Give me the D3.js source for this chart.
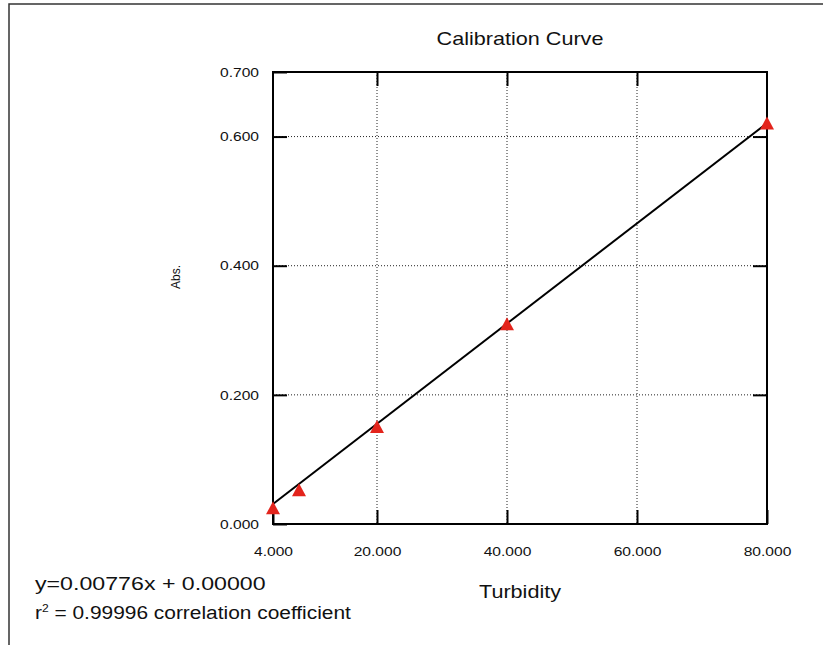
<!DOCTYPE html>
<html>
<head>
<meta charset="utf-8">
<script src="https://cdn.jsdelivr.net/npm/d3@7"></script>
<style>
  html, body { margin: 0; padding: 0; background: #fff; }
  svg text { font-family: "Liberation Sans", Arial, Helvetica, sans-serif; fill: #111; }
</style>
</head>
<body>
<svg id="chart" width="823" height="645"></svg>
<script>
// calibration standards
const turbidity = [4, 8, 20, 40, 80];
const absorbance = [0.025, 0.053, 0.151, 0.310, 0.621];

// fit
const slope = 0.00776;
const intercept = 0.0;

const xTicks = [4, 20, 40, 60, 80];
const yTicks = [0, 0.2, 0.4, 0.6, 0.7];
const xGrid = [20, 40, 60];
const yGrid = [0.2, 0.4, 0.6];

const margin = { top: 72, right: 56, bottom: 121, left: 273 };
const width = 823, height = 645;
// the source picture is a bit wider than tall, text looks stretched sideways
const sx = 1.2;

const svg = d3.select("#chart");

function stretch(sel, cx, s = sx) {
  sel.attr("transform", `translate(${cx},0) scale(${s},1) translate(${-cx},0)`);
}

// outer frame (only top and left edges visible)
svg.append("rect")
  .attr("x", 9).attr("y", 4)
  .attr("width", 900).attr("height", 800)
  .attr("fill", "none").attr("stroke", "#333").attr("stroke-width", 1.5);

const x = d3.scaleLinear()
  .domain([4, 80])
  .range([margin.left, width - margin.right]);

const y = d3.scaleLinear()
  .domain([0, 0.7])
  .range([height - margin.bottom, margin.top]);

const fmt = d3.format(".3f");

// grid
const grid = svg.append("g")
  .attr("stroke", "#222").attr("stroke-width", 1)
  .attr("stroke-dasharray", "1,2");
grid.selectAll(".gx").data(xGrid).join("line")
  .attr("x1", d => x(d)).attr("x2", d => x(d))
  .attr("y1", y(0.7)).attr("y2", y(0));
grid.selectAll(".gy").data(yGrid).join("line")
  .attr("y1", d => y(d)).attr("y2", d => y(d))
  .attr("x1", x(4)).attr("x2", x(80));

// axes with inner ticks
const tickLen = 14;
const axBottom = svg.append("g")
  .attr("transform", `translate(0,${y(0)})`)
  .call(d3.axisBottom(x).tickValues(xTicks).tickSize(-tickLen).tickPadding(23).tickFormat(fmt));
const axTop = svg.append("g")
  .attr("transform", `translate(0,${y(0.7)})`)
  .call(d3.axisTop(x).tickValues(xGrid).tickSize(-tickLen).tickFormat(""));
const axLeft = svg.append("g")
  .attr("transform", `translate(${x(4)},0)`)
  .call(d3.axisLeft(y).tickValues(yTicks).tickSize(-tickLen).tickPadding(14).tickFormat(fmt));
const axRight = svg.append("g")
  .attr("transform", `translate(${x(80)},0)`)
  .call(d3.axisRight(y).tickValues(yGrid).tickSize(-tickLen).tickFormat(""));

[axBottom, axTop, axLeft, axRight].forEach(g => {
  g.select(".domain").remove();
  g.selectAll(".tick line").attr("stroke", "#000").attr("stroke-width", 2);
  g.selectAll(".tick text").attr("font-size", 13).attr("fill", "#111")
    .style("font-family", '"Liberation Sans", Arial, sans-serif');
});
stretch(axBottom.selectAll(".tick text"), 0);
stretch(axLeft.selectAll(".tick text"), -14);

// plot frame
svg.append("rect")
  .attr("x", x(4)).attr("y", y(0.7))
  .attr("width", x(80) - x(4)).attr("height", y(0) - y(0.7))
  .attr("fill", "none").attr("stroke", "#000").attr("stroke-width", 2);

// regression line
const fitLine = d3.line()
  .x(d => x(d))
  .y(d => y(slope * d + intercept));
svg.append("path")
  .datum(x.domain())
  .attr("d", fitLine)
  .attr("fill", "none").attr("stroke", "#000").attr("stroke-width", 2);

// markers
const tri = "M0,-6.5L7,6.5L-7,6.5Z";
svg.append("g").selectAll("path")
  .data(turbidity.map((t, i) => [t, absorbance[i]]))
  .join("path")
  .attr("d", tri)
  .attr("transform", d => `translate(${x(d[0])},${y(d[1])})`)
  .attr("fill", "#e3241c");

// labels
const cx = (x(4) + x(80)) / 2;
svg.append("text")
  .attr("x", cx).attr("y", 45)
  .attr("text-anchor", "middle").attr("font-size", 18)
  .text("Calibration Curve")
  .call(stretch, cx);

svg.append("text")
  .attr("x", cx).attr("y", 598)
  .attr("text-anchor", "middle").attr("font-size", 18)
  .text("Turbidity")
  .call(stretch, cx);

svg.append("text")
  .attr("transform", `translate(180,277) rotate(-90)`)
  .attr("text-anchor", "middle").attr("font-size", 12)
  .text("Abs.");

const eq = svg.append("text").attr("font-size", 19).attr("x", 35).attr("y", 590)
  .text("y=0.00776x + 0.00000")
  .call(stretch, 35, 1.22);
const r2 = svg.append("text").attr("font-size", 19).attr("x", 35).attr("y", 619);
r2.append("tspan").text("r");
r2.append("tspan").attr("font-size", 11).attr("dy", -7).text("2");
r2.append("tspan").attr("dy", 7).text(" = 0.99996 correlation coefficient");
r2.call(stretch, 35, 1.1);
</script>
</body>
</html>
